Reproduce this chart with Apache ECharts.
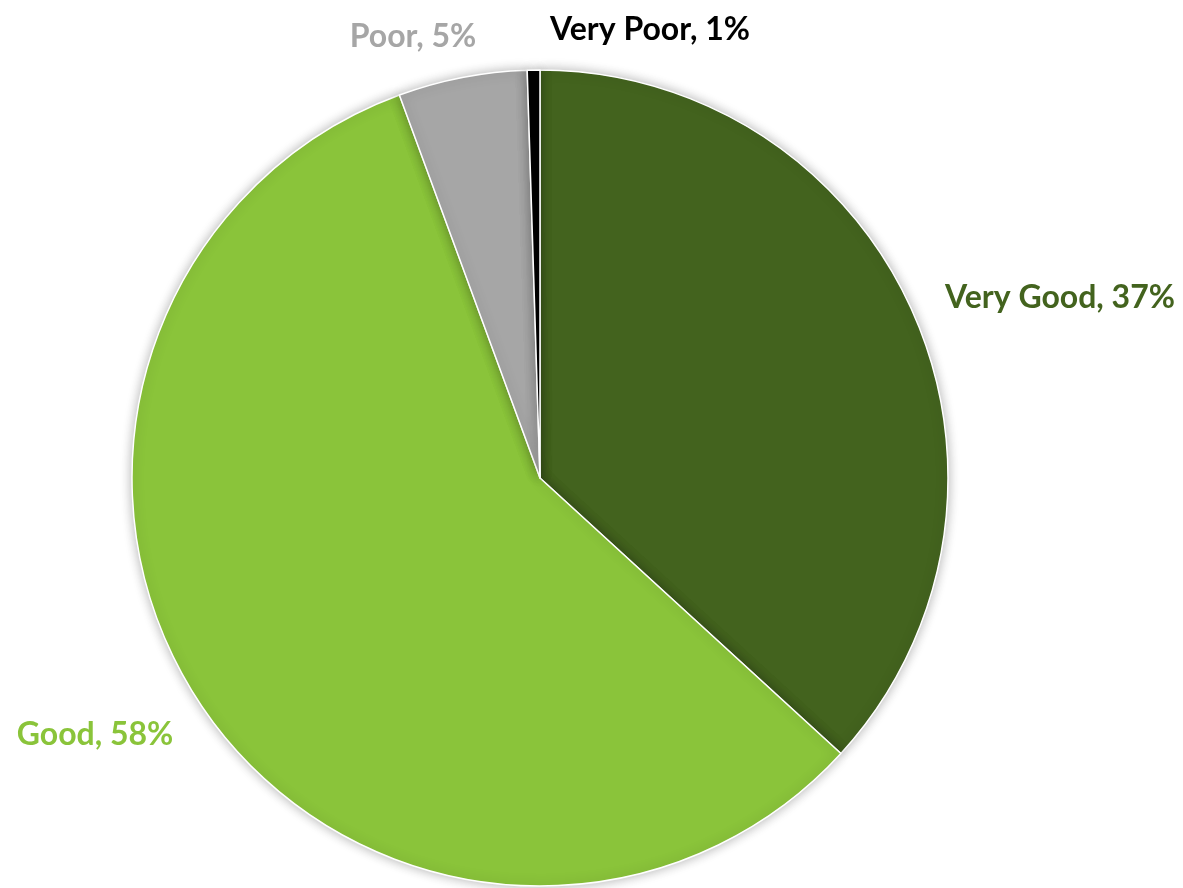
<!DOCTYPE html>
<html>
<head>
<meta charset="utf-8">
<script src="https://cdn.jsdelivr.net/npm/echarts@6/dist/echarts.min.js"></script>
<style>
  html, body { margin: 0; padding: 0; background: #fff; }
  #chart { width: 1183px; height: 888px; }
</style>
</head>
<body>
<div id="chart"></div>
<script>
// slices, clockwise from 12 o'clock
const categories = ['Very Good', 'Good', 'Poor', 'Very Poor'];
const shares = [36.8, 57.6, 5.1, 0.5];
const shownPct = [37, 58, 5, 1];
const sliceColors = ['#43631e', '#8ac43a', '#a6a6a6', '#000000'];
const labelColors = ['#43631e', '#8ac43a', '#a6a6a6', '#000000'];
// where Excel put the data labels (text centre)
const labelCenters = [[1060, 298], [95, 735], [413, 37], [650, 30]];

const chart = echarts.init(document.getElementById('chart'), null, { renderer: 'canvas' });

const option = {
  animation: false,
  series: [{
    type: 'pie',
    center: [540, 478],
    radius: 408,
    startAngle: 90,
    clockwise: true,
    avoidLabelOverlap: false,
    data: categories.map((name, i) => ({
      name,
      value: shares[i],
      itemStyle: { color: sliceColors[i] },
      label: { color: labelColors[i] }
    })),
    itemStyle: {
      borderColor: '#fff',
      borderWidth: 1.5,
      shadowBlur: 12,
      shadowColor: 'rgba(0,0,0,0.3)'
    },
    label: {
      show: true,
      position: 'outside',
      fontFamily: 'Lato',
      fontWeight: 'bold',
      fontSize: 32,
      formatter: p => p.name + ', ' + shownPct[p.dataIndex] + '%'
    },
    labelLine: { show: false },
    labelLayout: p => ({
      x: labelCenters[p.dataIndex][0],
      y: labelCenters[p.dataIndex][1],
      align: 'center',
      verticalAlign: 'middle'
    }),
    emphasis: { disabled: true }
  }]
};
chart.setOption(option);
</script>
</body>
</html>
